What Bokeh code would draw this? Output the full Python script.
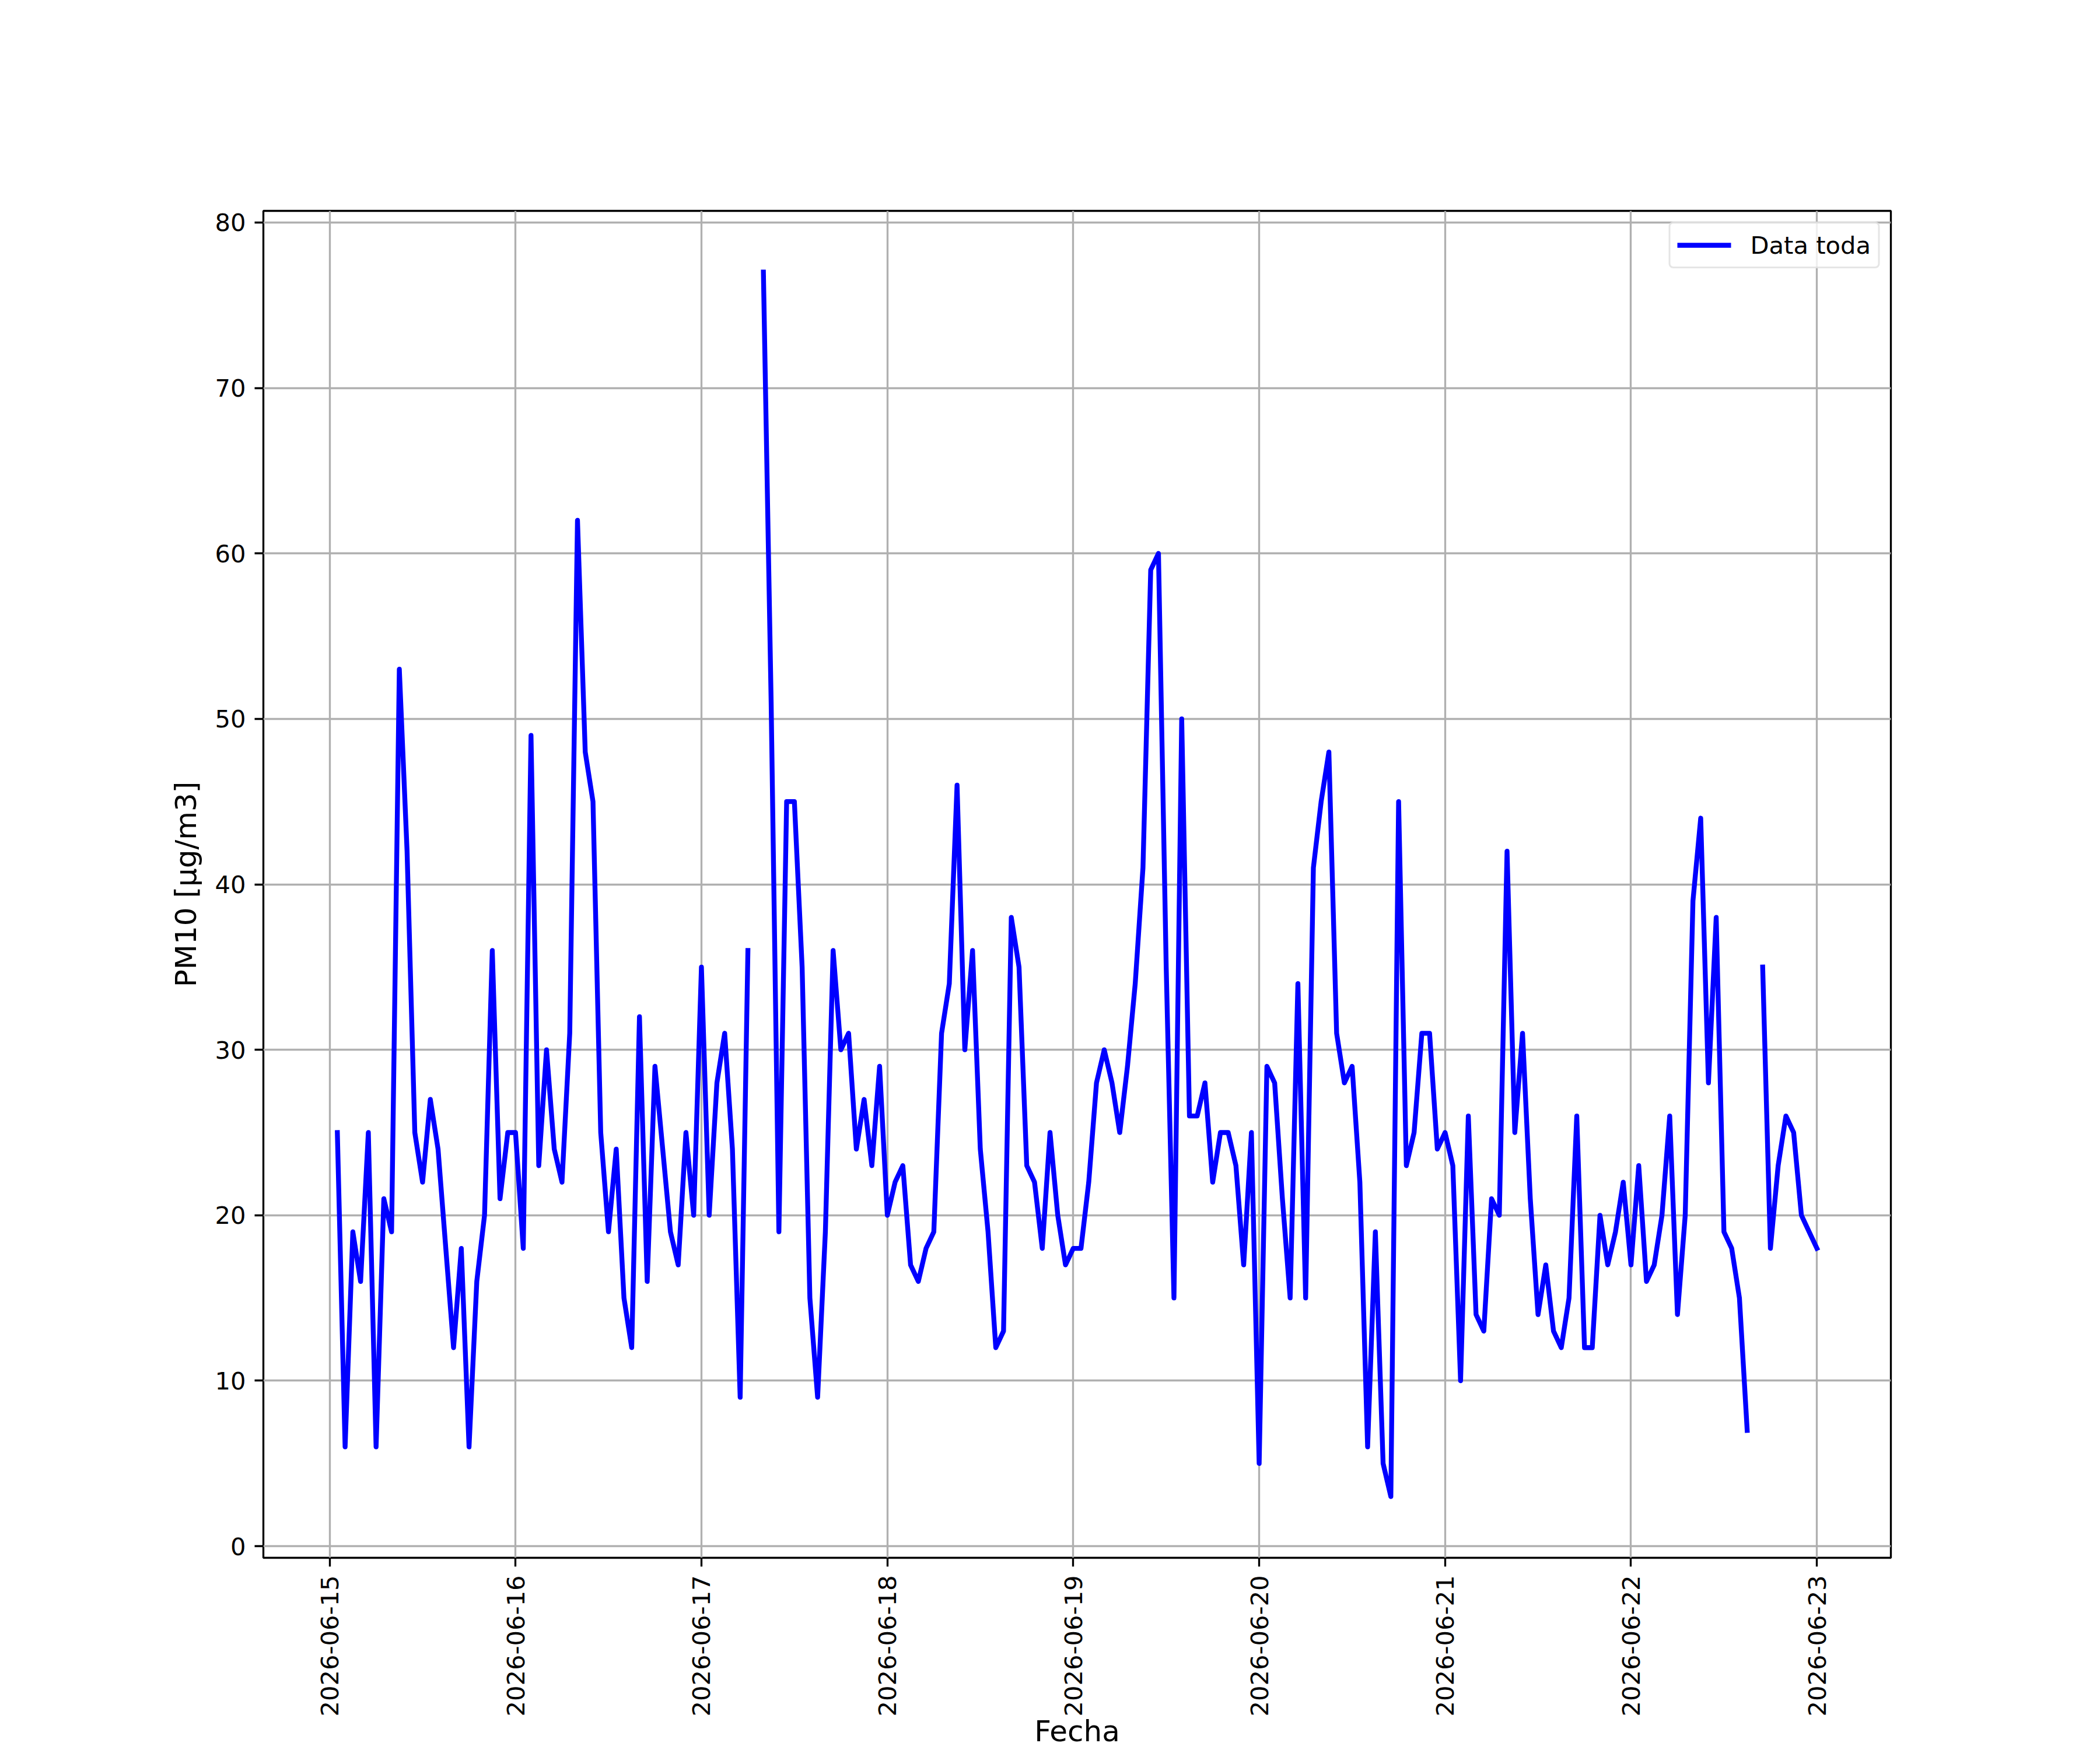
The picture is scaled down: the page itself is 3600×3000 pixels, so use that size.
from datetime import datetime, timedelta
import numpy as np
from bokeh.plotting import figure
from bokeh.models import (Range1d, FixedTicker, DatetimeTickFormatter,
                          Legend, LegendItem, ColumnDataSource)
from bokeh.embed import file_html
from bokeh.resources import INLINE

nan = float("nan")

# ---------------- data (hourly PM10, first value at 2026-06-15 01:00) ----------------
start_time = "2026-06-15 01:00"
day_15 = [25, 6, 19, 16, 25, 6, 21, 19, 53, 42, 25, 22, 27, 24, 18, 12, 18, 6, 16, 20, 36, 21, 25, 25]
day_16 = [18, 49, 23, 30, 24, 22, 31, 62, 48, 45, 25, 19, 24, 15, 12, 32, 16, 29, 24, 19, 17, 25, 20, 35]
day_17 = [20, 28, 31, 24, 9, 36, nan, 77, 51, 19, 45, 45, 35, 15, 9, 19, 36, 30, 31, 24, 27, 23, 29, 20]
day_18 = [22, 23, 17, 16, 18, 19, 31, 34, 46, 30, 36, 24, 19, 12, 13, 38, 35, 23, 22, 18, 25, 20, 17, 18]
day_19 = [18, 22, 28, 30, 28, 25, 29, 34, 41, 59, 60, 35, 15, 50, 26, 26, 28, 22, 25, 25, 23, 17, 25, 5]
day_20 = [29, 28, 21, 15, 34, 15, 41, 45, 48, 31, 28, 29, 22, 6, 19, 5, 3, 45, 23, 25, 31, 31, 24, 25]
day_21 = [23, 10, 26, 14, 13, 21, 20, 42, 25, 31, 21, 14, 17, 13, 12, 15, 26, 12, 12, 20, 17, 19, 22, 17]
day_22 = [23, 16, 17, 20, 26, 14, 20, 39, 44, 28, 38, 19, 18, 15, 7, nan, 35, 18, 23, 26, 25, 20, 19, 18]

pm10 = day_15 + day_16 + day_17 + day_18 + day_19 + day_20 + day_21 + day_22

tick_dates = ["2026-06-15", "2026-06-16", "2026-06-17", "2026-06-18", "2026-06-19",
              "2026-06-20", "2026-06-21", "2026-06-22", "2026-06-23"]
y_ticks = [0, 10, 20, 30, 40, 50, 60, 70, 80]

series_label = "Data toda"
x_label = "Fecha"
y_label = "PM10 [\u03bcg/m3]"

# ---------------- build ----------------
t_start = datetime.strptime(start_time, "%Y-%m-%d %H:%M")
times = [t_start + timedelta(hours=i) for i in range(len(pm10))]
src = ColumnDataSource(data=dict(t=times, v=pm10))

t0, t1 = times[0], times[-1]
span = t1 - t0
x_range = Range1d(start=t0 - span * 0.05, end=t1 + span * 0.05)
vals = np.array(pm10, dtype=float)
vmin, vmax = np.nanmin(vals), np.nanmax(vals)
pad = (vmax - vmin) * 0.05
y_range = Range1d(start=vmin - pad, end=vmax + pad)

epoch = datetime(1970, 1, 1)
tick_ms = [(datetime.strptime(d, "%Y-%m-%d") - epoch).total_seconds() * 1000.0 for d in tick_dates]

W, H = 3600, 3000
MBL, MBR, MBT, MBB = 451, 359, 361, 330

FONT = "DejaVu Sans"
TICK_FS = "41.67px"
LABEL_FS = "50px"
LW = 3.33

p = figure(width=W, height=H, x_axis_type="datetime", x_range=x_range, y_range=y_range,
           output_backend="svg", toolbar_location=None,
           min_border_left=MBL, min_border_right=MBR, min_border_top=MBT, min_border_bottom=MBB,
           background_fill_color="white", border_fill_color="white")

r = p.line(x="t", y="v", source=src, line_color="blue", line_width=8.33,
           line_join="round", line_cap="square")

p.outline_line_color = "black"
p.outline_line_width = LW
p.outline_line_alpha = 1.0

p.xaxis.ticker = FixedTicker(ticks=tick_ms)
p.xaxis.formatter = DatetimeTickFormatter(hours="%Y-%m-%d", days="%Y-%m-%d",
                                          months="%Y-%m-%d", years="%Y-%m-%d")
p.xaxis.major_label_orientation = np.pi / 2
p.yaxis.ticker = FixedTicker(ticks=y_ticks)

p.xaxis.axis_label = x_label
p.xaxis.axis_label_standoff = -7
p.yaxis.axis_label = y_label
p.yaxis.axis_label_standoff = 17

for ax in (p.xaxis, p.yaxis):
    ax.axis_line_color = None
    ax.major_tick_out = 15
    ax.major_tick_in = 0
    ax.major_tick_line_width = LW
    ax.major_tick_line_color = "black"
    ax.minor_tick_line_color = None
    ax.major_label_standoff = 15
    ax.major_label_text_font = FONT
    ax.major_label_text_font_size = TICK_FS
    ax.major_label_text_color = "black"
    ax.axis_label_text_font = FONT
    ax.axis_label_text_font_size = LABEL_FS
    ax.axis_label_text_font_style = "normal"
    ax.axis_label_text_color = "black"

for g in (p.xgrid, p.ygrid):
    g.grid_line_color = "#b0b0b0"
    g.grid_line_width = LW

legend = Legend(items=[LegendItem(label=series_label, renderers=[r])],
                location="top_right", margin=19, padding=12, spacing=0,
                label_standoff=33, glyph_width=92, glyph_height=50, label_height=50,
                label_text_font=FONT, label_text_font_size=TICK_FS, label_text_color="black",
                border_line_color="#cccccc", border_line_width=3.5,
                background_fill_color="white", background_fill_alpha=0.8)
if "border_radius" in Legend.properties():
    legend.border_radius = 8
p.add_layout(legend)

open("out.html", "w").write(file_html(p, INLINE))
